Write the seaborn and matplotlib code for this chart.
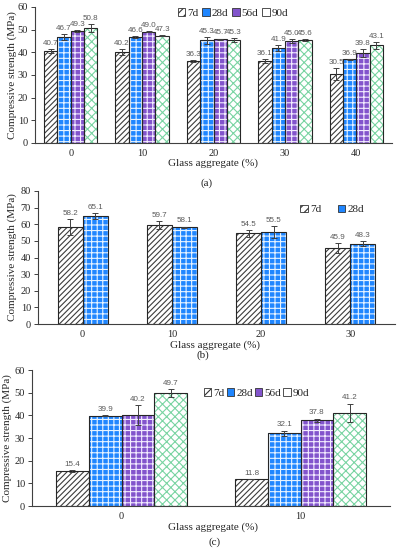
import numpy as np
import pandas as pd
import seaborn as sns
import matplotlib.pyplot as plt
import matplotlib.patches as mpatches

sns.set_style("white")
plt.rcParams['font.family'] = ['Liberation Serif', 'DejaVu Serif']
plt.rcParams['hatch.linewidth'] = 0.8

# ---- data ----
ages4 = ["7d", "28d", "56d", "90d"]
ages2 = ["7d", "28d"]

# panel (a)
glass_a = ["0", "10", "20", "30", "40"]
a_mean = {
    "7d": [40.7, 40.2, 36.3, 36.1, 30.5],
    "28d": [46.7, 46.6, 45.3, 41.9, 36.9],
    "56d": [49.3, 49.0, 45.7, 45.0, 39.8],
    "90d": [50.8, 47.3, 45.3, 45.6, 43.1],
}
a_err = {
    "7d": [0.8, 1.2, 0.4, 1.0, 2.5],
    "28d": [1.3, 0.4, 1.6, 1.5, 0.3],
    "56d": [0.5, 0.2, 0.4, 0.8, 1.8],
    "90d": [1.8, 0.3, 0.9, 0.4, 1.5],
}

# panel (b)
glass_b = ["0", "10", "20", "30"]
b_mean = {
    "7d": [58.2, 59.7, 54.5, 45.9],
    "28d": [65.1, 58.1, 55.5, 48.3],
}
b_err = {
    "7d": [4.8, 2.5, 2.0, 3.0],
    "28d": [1.8, 0.5, 3.5, 1.5],
}

# panel (c)
glass_c = ["0", "10"]
c_mean = {
    "7d": [15.4, 11.8],
    "28d": [39.9, 32.1],
    "56d": [40.2, 37.8],
    "90d": [49.7, 41.2],
}
c_err = {
    "7d": [0.3, 0.0],
    "28d": [0.3, 1.2],
    "56d": [4.5, 0.8],
    "90d": [1.8, 4.0],
}

# styles per curing age: face, hatch, hatch colour
styles = {
    "7d": ("white", "//////", "#3c3c3c"),
    "28d": ("#1f86ff", "+++", "#e6f3ff"),
    "56d": ("#8254cc", "+++", "#f3ecff"),
    "90d": ("white", "xxxx", "#79d4a2"),
}


def draw_panel(ax, cats, ages, means, errs, width, ymax, leg_anchor, leg_colsp, label_xy, ylabel_x):
    df = pd.DataFrame([
        {"glass": c, "age": a, "strength": means[a][i]}
        for a in ages for i, c in enumerate(cats)
    ])
    sns.barplot(data=df, x="glass", y="strength", hue="age", order=cats,
                hue_order=ages, palette={a: styles[a][0] for a in ages},
                width=width, errorbar=None, saturation=1, linewidth=0,
                legend=False, ax=ax)
    conts = list(ax.containers)
    for cont, age in zip(conts, ages):
        face, hatch, hcol = styles[age]
        for p in cont:
            p.set_hatch(hatch)
            p.set_edgecolor(hcol)
            p.set_linewidth(0)
        xs = [p.get_x() + p.get_width() / 2 for p in cont]
        w = cont[0].get_width()
        # black outline on top of hatched bars
        ax.bar(xs, means[age], width=w, fill=False, edgecolor="#262626", linewidth=0.8)
        ax.errorbar(xs, means[age], yerr=errs[age], fmt="none", ecolor="#404040",
                    elinewidth=0.7, capsize=2, capthick=0.7)
        for x, m, e in zip(xs, means[age], errs[age]):
            ax.annotate(f"{m:.1f}", (x, m + e), xytext=(0, 1.5), textcoords="offset points",
                        ha="center", va="bottom", fontsize=5.8, color="#595959",
                        family="Liberation Sans")

    ax.set_xlim(-0.5, len(cats) - 0.5)
    ax.set_ylim(0, ymax)
    ax.set_yticks(np.arange(0, ymax + 1, 10))
    ax.set_xticks(np.arange(-0.5, len(cats), 1), minor=True)
    ax.tick_params(axis="x", which="major", length=0, pad=4, labelsize=7.5)
    ax.tick_params(axis="x", which="minor", length=3, width=0.7, direction="out", color="#404040")
    ax.tick_params(axis="y", length=3, width=0.7, direction="out", labelsize=7.5,
                   color="#404040", left=True, pad=2)
    for s in ["top", "right"]:
        ax.spines[s].set_visible(False)
    for s in ["left", "bottom"]:
        ax.spines[s].set_color("#404040")
        ax.spines[s].set_linewidth(0.8)

    ax.set_xlabel("Glass aggregate (%)", fontsize=8)
    ax.xaxis.set_label_coords(label_xy[0], label_xy[1])
    ax.set_ylabel("Compressive strength (MPa)", fontsize=8)
    ax.yaxis.set_label_coords(ylabel_x, 0.5)

    handles = [mpatches.Patch(facecolor=styles[a][0], edgecolor="#333333",
                              hatch="////" if a == "7d" else None, linewidth=0.6, label=a)
               for a in ages]
    ax.legend(handles=handles, ncol=len(ages), loc="center left", bbox_to_anchor=leg_anchor,
              frameon=False, fontsize=8, handlelength=0.65, handleheight=0.65,
              handletextpad=0.2, columnspacing=leg_colsp, borderpad=0, borderaxespad=0)


fig = plt.figure(figsize=(3.98, 5.5), dpi=100)

ax_a = fig.add_axes([35 / 398, 1 - 143 / 550, 357 / 398, 136 / 550])
draw_panel(ax_a, glass_a, ages4, a_mean, a_err, 0.75, 60, (0.40, 0.955), 0.35, (0.5, -0.11), -0.05)

ax_b = fig.add_axes([38 / 398, 1 - 324 / 550, 357 / 398, 133 / 550])
draw_panel(ax_b, glass_b, ages2, b_mean, b_err, 0.56, 80, (0.735, 0.862), 1.5, (0.496, -0.125), -0.058)

ax_c = fig.add_axes([32 / 398, 1 - 506 / 550, 358 / 398, 136 / 550])
draw_panel(ax_c, glass_c, ages4, c_mean, c_err, 0.73, 60, (0.48, 0.83), 0.2, (0.506, -0.12), -0.055)

fig.text(207 / 398, 1 - 183 / 550, "(a)", ha="center", va="center", fontsize=8)
fig.text(203 / 398, 1 - 355 / 550, "(b)", ha="center", va="center", fontsize=8)
fig.text(215 / 398, 1 - 542 / 550, "(c)", ha="center", va="center", fontsize=8)

fig.savefig("out.png", dpi=100)
